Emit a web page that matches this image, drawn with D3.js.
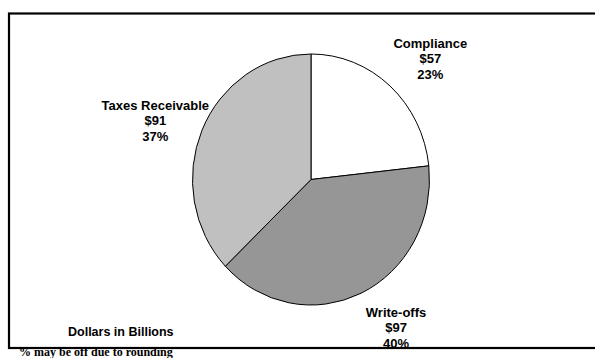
<!DOCTYPE html>
<html>
<head>
<meta charset="utf-8">
<script src="https://cdn.jsdelivr.net/npm/d3@7"></script>
<style>
  html, body { margin: 0; padding: 0; background: #fff; overflow: hidden; }
  svg { display: block; }
</style>
</head>
<body>
<script>
// ---- data ----
const categories = ["Compliance", "Write-offs", "Taxes Receivable"];
const values = [57, 97, 91];            // dollars in billions
const valueLabels = ["$57", "$97", "$91"];
const percentLabels = ["23%", "40%", "37%"];
const colors = ["#ffffff", "#969696", "#c0c0c0"];
const unitNote = "Dollars in Billions";
const footNote = "% may be off due to rounding";

// layout-only nudges for the data labels (px), not data
const labelNudge = [[7, 5], [14, -4], [-1, 8]];

const W = 595, H = 358;
const svg = d3.select("body").append("svg").attr("width", W).attr("height", H);

// frame (extends beyond right edge, as in reference)
svg.append("rect")
  .attr("x", 9).attr("y", 13.5).attr("width", 620).attr("height", 334.5)
  .attr("fill", "none").attr("stroke", "#000").attr("stroke-width", 2.2);

const cx = 311, cy = 179.5, rx = 118.5, ry = 125.5;
const sy = ry / rx;

const pie = d3.pie().sort(null).value(d => d);
const arcs = pie(values);
const arc = d3.arc().innerRadius(0).outerRadius(rx);

const g = svg.append("g").attr("transform", `translate(${cx},${cy}) scale(1,${sy})`);
g.selectAll("path").data(arcs).join("path")
  .attr("d", arc)
  .attr("fill", (d, i) => colors[i])
  .attr("stroke", "#000")
  .attr("stroke-width", 1)
  .attr("vector-effect", "non-scaling-stroke");

// labels placed around the pie using arc centroids
const labelArc = d3.arc().innerRadius(rx * 1.42).outerRadius(rx * 1.42);
const lg = svg.append("g").attr("transform", `translate(${cx},${cy})`);
const lineH = 15.5;
arcs.forEach((d, i) => {
  let [x, y] = labelArc.centroid(d);
  x += labelNudge[i][0];
  y += labelNudge[i][1];
  const t = lg.append("text")
    .attr("text-anchor", "middle")
    .attr("font-family", "'Liberation Sans', Arial, sans-serif")
    .attr("font-weight", "bold")
    .attr("font-size", 13)
    .attr("fill", "#000");
  [categories[i], valueLabels[i], percentLabels[i]].forEach((s, k) => {
    t.append("tspan").attr("x", x).attr("y", y + (k - 1) * lineH + 4).text(s);
  });
});

svg.append("text")
  .attr("x", 68).attr("y", 336)
  .attr("font-family", "'Liberation Sans', Arial, sans-serif")
  .attr("font-weight", "bold").attr("font-size", 12.5)
  .text(unitNote);

svg.append("text")
  .attr("x", 19).attr("y", 356)
  .attr("font-family", "'Liberation Serif', 'Times New Roman', serif")
  .attr("font-weight", "bold").attr("font-size", 12)
  .text(footNote);
</script>
</body>
</html>
